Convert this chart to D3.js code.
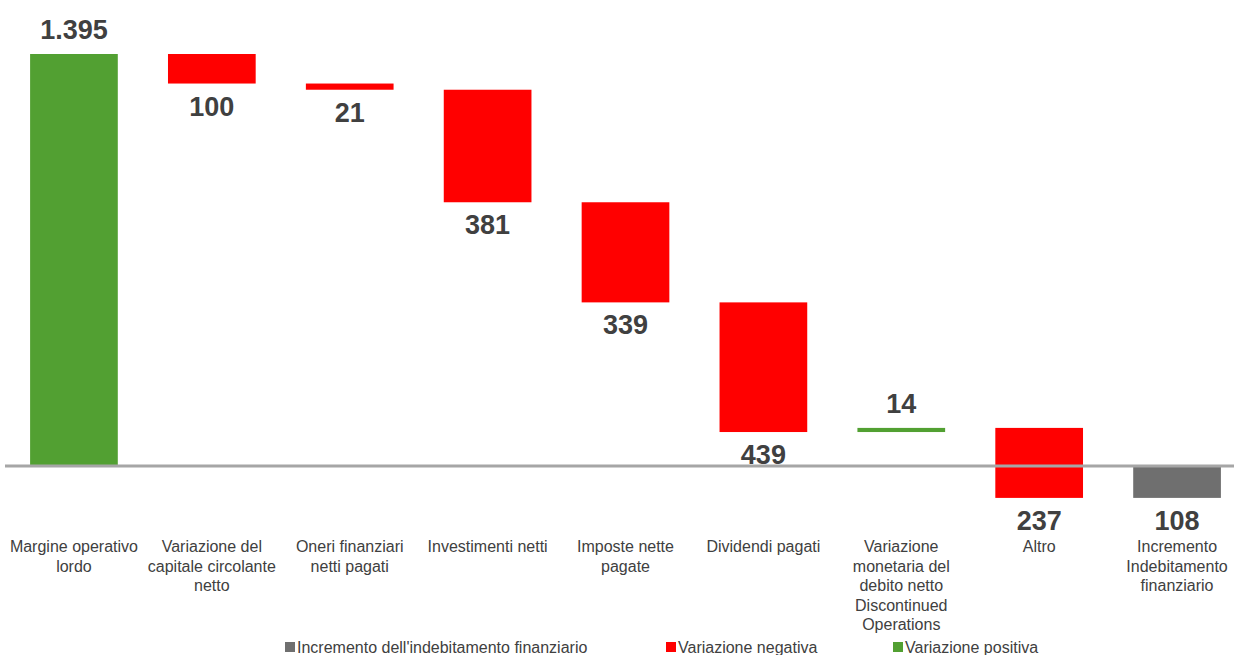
<!DOCTYPE html>
<html>
<head>
<meta charset="utf-8">
<script src="https://cdn.jsdelivr.net/npm/d3@7"></script>
<style>
  body { margin: 0; background: #fff; }
  svg { font-family: "Liberation Sans", Arial, sans-serif; }
</style>
</head>
<body>
<div id="chart"></div>
<script>
// categories (each as its wrapped lines)
const categories = [
  ["Margine operativo", "lordo"],
  ["Variazione del", "capitale circolante", "netto"],
  ["Oneri finanziari", "netti pagati"],
  ["Investimenti netti"],
  ["Imposte nette", "pagate"],
  ["Dividendi pagati"],
  ["Variazione", "monetaria del", "debito netto", "Discontinued", "Operations"],
  ["Altro"],
  ["Incremento", "Indebitamento", "finanziario"]
];
// changes, last one is the total
const changes = [1395, -100, -21, -381, -339, -439, 14, -237];
const labels = ["1.395", "100", "21", "381", "339", "439", "14", "237", "108"];
const legendItems = ["Incremento dell'indebitamento finanziario", "Variazione negativa", "Variazione positiva"];

const width = 1234, height = 655;
const colors = { pos: "#52a032", neg: "#ff0000", total: "#6f6f6f" };

const svg = d3.select("#chart").append("svg")
  .attr("width", width)
  .attr("height", height);

// build waterfall steps
var steps = [];
var run = 0;
changes.forEach(function(v, i) {
  steps.push({ i: i, start: run, end: run + v, type: v >= 0 ? "pos" : "neg", label: labels[i] });
  run += v;
});
steps.push({ i: changes.length, start: 0, end: run, type: "total", label: labels[changes.length] });

var x = d3.scaleBand().domain(d3.range(categories.length)).range([5, 1246]).paddingInner(0.364).paddingOuter(0.182);
var y = d3.scaleLinear().domain([0, 1395]).range([466, 54]);

svg.selectAll(".bar")
  .data(steps)
  .enter().append("rect")
  .attr("class", "bar")
  .attr("x", function(d) { return x(d.i); })
  .attr("width", x.bandwidth())
  .attr("y", function(d) { return y(Math.max(d.start, d.end)); })
  .attr("height", function(d) { return Math.abs(y(d.start) - y(d.end)); })
  .style("fill", function(d) { return colors[d.type]; });

// zero line
svg.append("line")
  .attr("x1", 5).attr("x2", width)
  .attr("y1", y(0)).attr("y2", y(0))
  .style("stroke", "#a6a6a6")
  .style("stroke-width", 3);

// value labels
svg.selectAll(".val")
  .data(steps)
  .enter().append("text")
  .attr("class", "val")
  .attr("x", function(d) { return x(d.i) + x.bandwidth() / 2; })
  .attr("y", function(d) {
    if (d.type == "pos") return y(Math.max(d.start, d.end)) - 15;
    return y(Math.min(d.start, d.end)) + 32;
  })
  .attr("text-anchor", "middle")
  .style("font-size", "27px")
  .style("font-weight", "bold")
  .style("fill", "#404040")
  .text(function(d) { return d.label; });

// category labels
var cat = svg.selectAll(".cat")
  .data(categories)
  .enter().append("text")
  .attr("class", "cat")
  .attr("text-anchor", "middle")
  .attr("x", function(d, i) { return x(i) + x.bandwidth() / 2; })
  .attr("y", 552)
  .style("font-size", "16px")
  .style("fill", "#404040");
cat.selectAll("tspan")
  .data(function(d) { return d; })
  .enter().append("tspan")
  .attr("x", function() { return this.parentNode.getAttribute("x"); })
  .attr("dy", function(d, j) { return j == 0 ? 0 : 19.5; })
  .text(function(d) { return d; });

// legend
var legendX = [285, 666, 893];
var legendColors = [colors.total, colors.neg, colors.pos];
var lg = svg.selectAll(".lg")
  .data(legendItems)
  .enter().append("g")
  .attr("class", "lg")
  .attr("transform", function(d, i) { return "translate(" + legendX[i] + ",647)"; });
lg.append("rect")
  .attr("x", 0).attr("y", -5)
  .attr("width", 10).attr("height", 10)
  .style("fill", function(d, i) { return legendColors[i]; });
lg.append("text")
  .attr("x", 12).attr("y", 6)
  .style("font-size", "16px")
  .style("fill", "#404040")
  .text(function(d) { return d; });
</script>
</body>
</html>
